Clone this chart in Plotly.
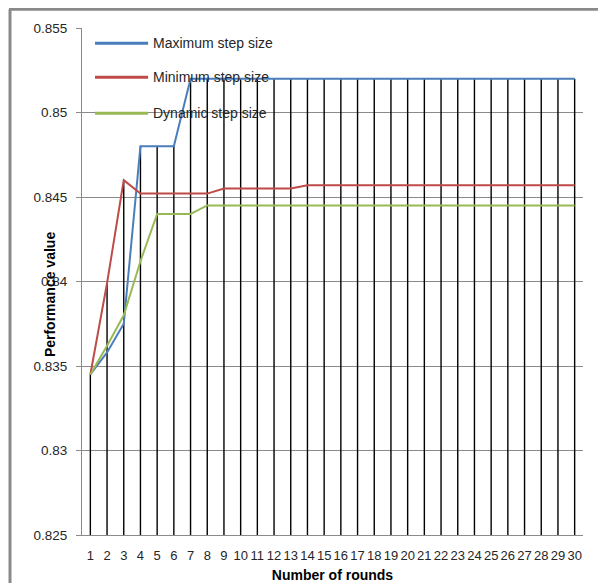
import plotly.graph_objects as go

rounds = list(range(1, 31))
max_step = [0.8345, 0.8358, 0.8375, 0.848, 0.848, 0.848] + [0.852] * 24
min_step = [0.8345, 0.8399, 0.8460, 0.8452, 0.8452, 0.8452, 0.8452, 0.8452,
            0.8455, 0.8455, 0.8455, 0.8455, 0.8455] + [0.8457] * 17
dyn_step = [0.8345, 0.8362, 0.8380, 0.8412, 0.8440, 0.8440, 0.8440] + [0.8445] * 23
series_names = ["Maximum step size", "Minimum step size", "Dynamic step size"]
y_tickvals = [0.825, 0.83, 0.835, 0.84, 0.845, 0.85, 0.855]
y_ticktext = ["0.825", "0.83", "0.835", "0.84", "0.845", "0.85", "0.855"]
x_ticktext = [str(r) for r in rounds]

colors = ["#4A7EBB", "#BE4B48", "#98B954"]
FONT = "Liberation Sans"
ymin = y_tickvals[0]

# drop lines from the highest series down to the axis
dx, dy = [], []
for i, r in enumerate(rounds):
    top = max(max_step[i], min_step[i], dyn_step[i])
    dx += [r, r, None]
    dy += [ymin, top, None]

fig = go.Figure()
fig.add_trace(go.Scatter(x=dx, y=dy, mode="lines", line=dict(color="#000000", width=1.4),
                         showlegend=False, hoverinfo="skip"))
for name, vals, c in zip(series_names, [max_step, min_step, dyn_step], colors):
    fig.add_trace(go.Scatter(x=rounds, y=vals, mode="lines", name=name,
                             line=dict(color=c, width=2), showlegend=False))

shapes = []
annotations = []
leg_y = [0.970, 0.903, 0.832]
for name, c, ly in zip(series_names, colors, leg_y):
    shapes.append(dict(type="line", xref="paper", yref="paper", x0=0.026, x1=0.132,
                       y0=ly, y1=ly, line=dict(color=c, width=3)))
    annotations.append(dict(xref="paper", yref="paper", x=0.138, y=ly, text=name,
                            showarrow=False, xanchor="left", yanchor="middle",
                            font=dict(family=FONT, size=14, color="#262626")))

# outer chart border
shapes.append(dict(type="line", xref="paper", yref="paper", x0=-0.1437, x1=-0.1437,
                   y0=1.037, y1=-0.095, line=dict(color="#8a8a8a", width=3)))
shapes.append(dict(type="line", xref="paper", yref="paper", x0=-0.1457, x1=1.05,
                   y0=1.037, y1=1.037, line=dict(color="#8a8a8a", width=3)))

annotations.append(dict(xref="paper", yref="paper", x=-0.064, y=0.475, text="<b>Performance value</b>",
                        textangle=-90, showarrow=False, xanchor="center", yanchor="middle",
                        font=dict(family=FONT, size=14, color="#000000")))

fig.update_layout(
    width=590, height=575,
    margin=dict(l=74, r=15, t=20, b=48),
    paper_bgcolor="white", plot_bgcolor="white",
    font=dict(family=FONT, size=13, color="#333333"),
    shapes=shapes, annotations=annotations,
    xaxis=dict(range=[0.5, 30.5], tickmode="array", tickvals=rounds, ticktext=x_ticktext,
               showgrid=False, zeroline=False, showline=True, linecolor="#8a8a8a", linewidth=1,
               ticks="", tickangle=0, automargin=False,
               tickfont=dict(family=FONT, size=13, color="#262626"),
               ticklabelstandoff=8,
               title=dict(text="<b>Number of rounds</b>", standoff=10,
                          font=dict(family=FONT, size=14, color="#000000"))),
    yaxis=dict(range=[0.825, 0.855], tickmode="array", tickvals=y_tickvals, ticktext=y_ticktext,
               showgrid=True, gridcolor="#8a8a8a", gridwidth=1, zeroline=False,
               showline=True, linecolor="#8a8a8a", linewidth=1, automargin=False,
               ticks="outside", ticklen=5, tickcolor="#8a8a8a",
               ticklabelstandoff=6,
               tickfont=dict(family=FONT, size=13.5, color="#262626")),
)

fig.write_html("out.html")
